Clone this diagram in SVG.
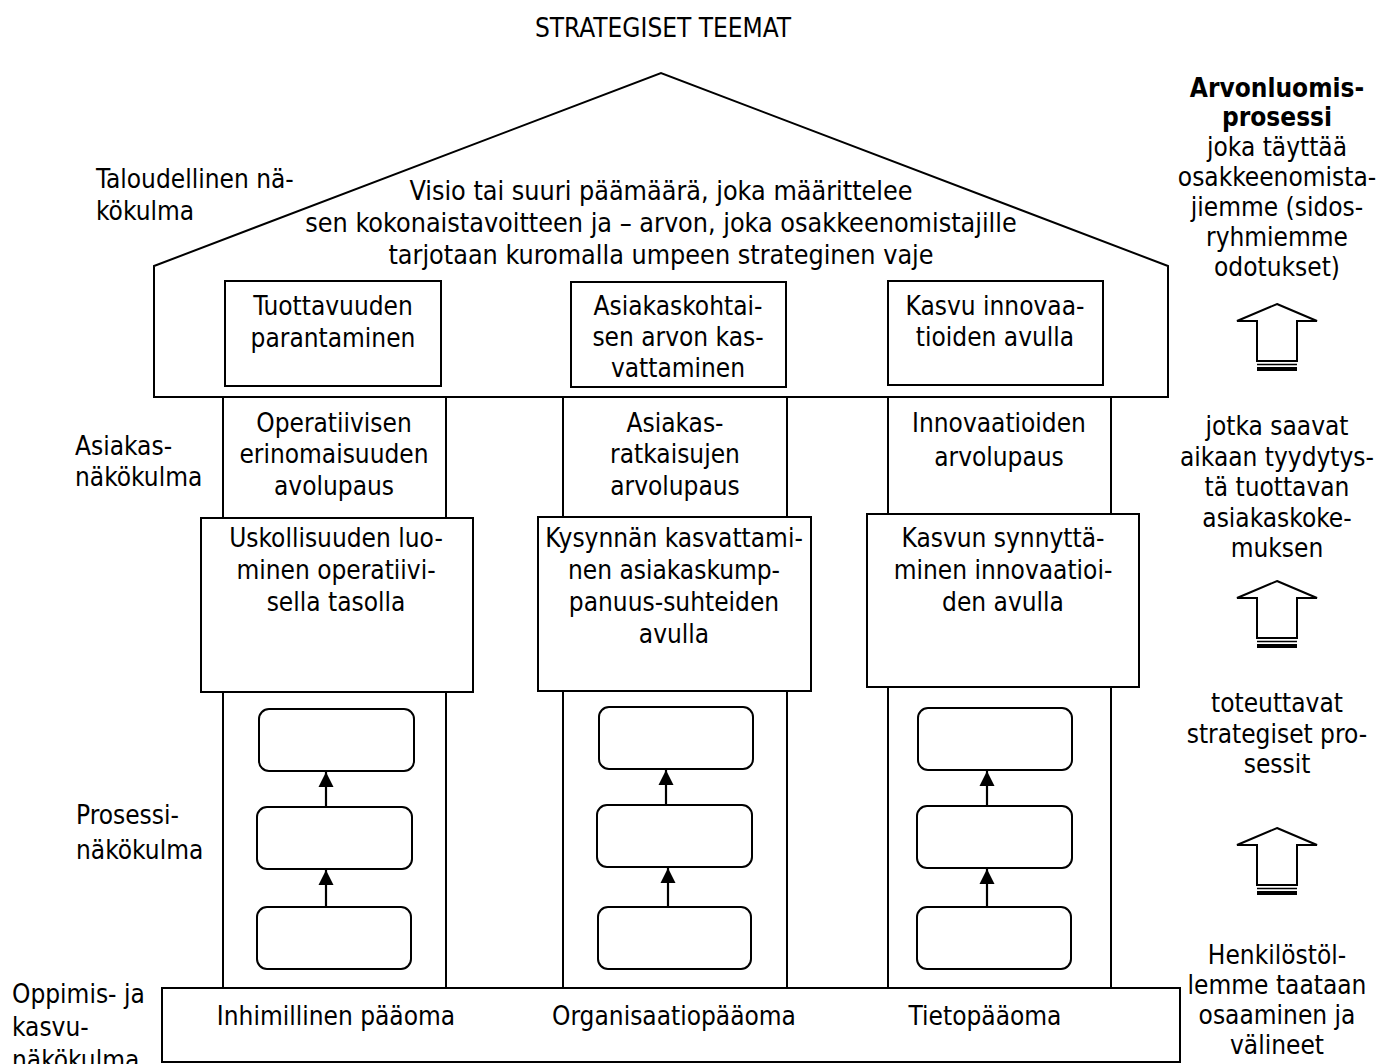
<svg xmlns="http://www.w3.org/2000/svg" width="1389" height="1064" viewBox="0 0 1389 1064">
  <style>
    text { font-family: "DejaVu Sans Condensed", "DejaVu Sans", sans-serif; font-stretch: condensed; font-size: 26px; fill: #000; }
    .c { text-anchor: middle; }
    .b { font-weight: bold; }
    .vision { font-size: 26.7px; }
    .box { fill: #fff; stroke: #000; stroke-width: 2; }
    .rbox { fill: #fff; stroke: #000; stroke-width: 2; }
    .flow { stroke: #000; stroke-width: 2.2; fill: none; }
    .hollow { fill: #fff; stroke: #000; stroke-width: 2; stroke-linejoin: miter; }
  </style>
  <defs>
    <marker id="tip" viewBox="0 0 10 10" refX="10" refY="5" markerWidth="7" markerHeight="7" markerUnits="strokeWidth" orient="auto">
      <path d="M0,0 L10,5 L0,10 z" fill="#000"/>
    </marker>
    <!-- hollow upward block arrow with striped tail -->
    <g id="upArrow">
      <path class="hollow" d="M0,0 L40,17 L20,17 L20,57 L-20,57 L-20,17 L-40,17 z"/>
      <line x1="-20" y1="60.5" x2="20" y2="60.5" stroke="#000" stroke-width="1.5"/>
      <rect x="-20" y="63" width="40" height="4" fill="#000"/>
    </g>
  </defs>

  <!-- title -->
  <text class="c" x="663" y="37" font-size="24">STRATEGISET TEEMAT</text>

  <!-- perspective labels on the left -->
  <g id="label-talous">
    <text x="96" y="188">Taloudellinen nä-</text>
    <text x="96" y="220">kökulma</text>
  </g>
  <g id="label-asiakas">
    <text x="75" y="455">Asiakas-</text>
    <text x="75" y="486">näkökulma</text>
  </g>
  <g id="label-prosessi">
    <text x="76" y="824">Prosessi-</text>
    <text x="76" y="859">näkökulma</text>
  </g>
  <g id="label-oppiminen">
    <text x="12" y="1003">Oppimis- ja</text>
    <text x="12" y="1036">kasvu-</text>
    <text x="12" y="1069">näkökulma</text>
  </g>

  <!-- roof -->
  <g id="roof">
    <path class="box" d="M154,266 L661,73 L1168,266 L1168,397 L154,397 Z"/>
    <text class="c vision" x="661" y="200">Visio tai suuri päämäärä, joka määrittelee</text>
    <text class="c vision" x="661" y="232">sen kokonaistavoitteen ja – arvon, joka osakkeenomistajille</text>
    <text class="c vision" x="661" y="264">tarjotaan kuromalla umpeen strateginen vaje</text>
  </g>

  <!-- strategic themes inside the roof -->
  <g id="theme-tuottavuus">
    <rect class="box" x="225" y="281" width="216" height="105"/>
    <text class="c" x="333" y="315">Tuottavuuden</text>
    <text class="c" x="333" y="347">parantaminen</text>
  </g>
  <g id="theme-asiakasarvo">
    <rect class="box" x="571" y="282" width="215" height="105"/>
    <text class="c" x="678" y="315">Asiakaskohtai-</text>
    <text class="c" x="678" y="346">sen arvon kas-</text>
    <text class="c" x="678" y="377">vattaminen</text>
  </g>
  <g id="theme-innovaatio">
    <rect class="box" x="888" y="281" width="215" height="104"/>
    <text class="c" x="995" y="315">Kasvu innovaa-</text>
    <text class="c" x="995" y="346">tioiden avulla</text>
  </g>

  <!-- pillars -->
  <g id="pillar-1">
    <rect class="box" x="223" y="397" width="223" height="591"/>
    <text class="c" x="334" y="432">Operatiivisen</text>
    <text class="c" x="334" y="463">erinomaisuuden</text>
    <text class="c" x="334" y="495">avolupaus</text>
  </g>
  <g id="pillar-2">
    <rect class="box" x="563" y="397" width="224" height="591"/>
    <text class="c" x="675" y="432">Asiakas-</text>
    <text class="c" x="675" y="463">ratkaisujen</text>
    <text class="c" x="675" y="495">arvolupaus</text>
  </g>
  <g id="pillar-3">
    <rect class="box" x="888" y="397" width="223" height="591"/>
    <text class="c" x="999" y="432">Innovaatioiden</text>
    <text class="c" x="999" y="466">arvolupaus</text>
  </g>

  <!-- customer value boxes -->
  <g id="value-1">
    <rect class="box" x="201" y="518" width="272" height="174"/>
    <text class="c" x="336" y="547">Uskollisuuden luo-</text>
    <text class="c" x="336" y="579">minen operatiivi-</text>
    <text class="c" x="336" y="611">sella tasolla</text>
  </g>
  <g id="value-2">
    <rect class="box" x="538" y="517" width="273" height="174"/>
    <text class="c" x="674" y="547">Kysynnän kasvattami-</text>
    <text class="c" x="674" y="579">nen asiakaskump-</text>
    <text class="c" x="674" y="611">panuus-suhteiden</text>
    <text class="c" x="674" y="643">avulla</text>
  </g>
  <g id="value-3">
    <rect class="box" x="867" y="514" width="272" height="173"/>
    <text class="c" x="1003" y="547">Kasvun synnyttä-</text>
    <text class="c" x="1003" y="579">minen innovaatioi-</text>
    <text class="c" x="1003" y="611">den avulla</text>
  </g>

  <!-- process steps -->
  <g id="proc-1a"><rect class="rbox" x="259" y="709" width="155" height="62" rx="10"/></g>
  <g id="proc-1b"><rect class="rbox" x="257" y="807" width="155" height="62" rx="10"/></g>
  <g id="proc-1c"><rect class="rbox" x="257" y="907" width="154" height="62" rx="10"/></g>
  <g id="proc-2a"><rect class="rbox" x="599" y="707" width="154" height="62" rx="10"/></g>
  <g id="proc-2b"><rect class="rbox" x="597" y="805" width="155" height="62" rx="10"/></g>
  <g id="proc-2c"><rect class="rbox" x="598" y="907" width="153" height="62" rx="10"/></g>
  <g id="proc-3a"><rect class="rbox" x="918" y="708" width="154" height="62" rx="10"/></g>
  <g id="proc-3b"><rect class="rbox" x="917" y="806" width="155" height="62" rx="10"/></g>
  <g id="proc-3c"><rect class="rbox" x="917" y="907" width="154" height="62" rx="10"/></g>

  <!-- foundation -->
  <g id="foundation">
    <rect class="box" x="162" y="988" width="1018" height="74"/>
    <text class="c" x="336" y="1025">Inhimillinen pääoma</text>
    <text class="c" x="674" y="1025">Organisaatiopääoma</text>
    <text class="c" x="985" y="1025">Tietopääoma</text>
  </g>

  <!-- connectors between process steps -->
  <g id="connectors">
    <line class="flow" x1="326" y1="807" x2="326" y2="772" marker-end="url(#tip)"/>
    <line class="flow" x1="326" y1="907" x2="326" y2="870" marker-end="url(#tip)"/>
    <line class="flow" x1="666" y1="805" x2="666" y2="770" marker-end="url(#tip)"/>
    <line class="flow" x1="668" y1="907" x2="668" y2="868" marker-end="url(#tip)"/>
    <line class="flow" x1="987" y1="806" x2="987" y2="771" marker-end="url(#tip)"/>
    <line class="flow" x1="987" y1="907" x2="987" y2="869" marker-end="url(#tip)"/>
  </g>

  <!-- value creation chain on the right -->
  <g id="chain-text-1">
    <text class="c b" x="1277" y="97">Arvonluomis-</text>
    <text class="c b" x="1277" y="126">prosessi</text>
    <text class="c" x="1277" y="156">joka täyttää</text>
    <text class="c" x="1277" y="186">osakkeenomista-</text>
    <text class="c" x="1277" y="216">jiemme (sidos-</text>
    <text class="c" x="1277" y="246">ryhmiemme</text>
    <text class="c" x="1277" y="276">odotukset)</text>
  </g>
  <g id="chain-arrow-1"><use href="#upArrow" x="1277" y="304"/></g>
  <g id="chain-text-2">
    <text class="c" x="1277" y="435">jotka saavat</text>
    <text class="c" x="1277" y="466">aikaan tyydytys-</text>
    <text class="c" x="1277" y="496">tä tuottavan</text>
    <text class="c" x="1277" y="527">asiakaskoke-</text>
    <text class="c" x="1277" y="557">muksen</text>
  </g>
  <g id="chain-arrow-2"><use href="#upArrow" x="1277" y="581"/></g>
  <g id="chain-text-3">
    <text class="c" x="1277" y="712">toteuttavat</text>
    <text class="c" x="1277" y="743">strategiset pro-</text>
    <text class="c" x="1277" y="773">sessit</text>
  </g>
  <g id="chain-arrow-3"><use href="#upArrow" x="1277" y="828"/></g>
  <g id="chain-text-4">
    <text class="c" x="1277" y="964">Henkilöstöl-</text>
    <text class="c" x="1277" y="994">lemme taataan</text>
    <text class="c" x="1277" y="1024">osaaminen ja</text>
    <text class="c" x="1277" y="1054">välineet</text>
  </g>
</svg>
